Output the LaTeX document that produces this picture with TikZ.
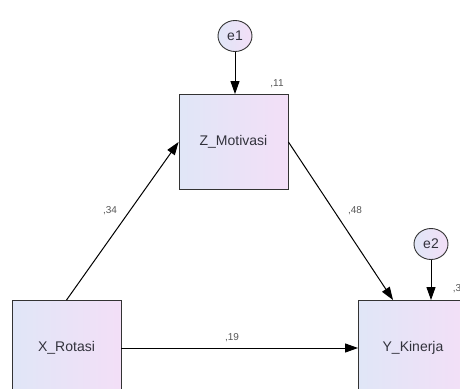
\documentclass[tikz,border=0pt]{standalone}
\usepackage{fontspec}
\setmainfont{Liberation Sans}
\usetikzlibrary{arrows.meta,shapes.geometric,calc}
\definecolor{boxL}{RGB}{224,230,247}
\definecolor{boxR}{RGB}{243,223,247}
\definecolor{lbl}{RGB}{85,85,85}
\definecolor{txt}{RGB}{50,50,60}
\tikzset{
  var/.style={draw=black!80, line width=0.9pt, left color=boxL, right color=boxR, minimum width=109pt, minimum height=95pt, inner sep=0pt, font=\fontsize{14}{16}\selectfont, text=txt},
  err/.style={draw=black!80, line width=0.9pt, ellipse, left color=boxL, right color=boxR, minimum width=34pt, minimum height=31pt, inner sep=0pt, font=\fontsize{14}{16}\selectfont, text=txt},
  path/.style={draw=black, line width=1pt, -{Triangle[length=13pt,width=9pt]}},
  coef/.style={font=\fontsize{10}{12}\selectfont, text=lbl}
}
\begin{document}
\begin{tikzpicture}[x=1pt,y=-1pt]
\useasboundingbox (0,0) rectangle (460,388);
\node[var] (Z) at (233.5,142) {Z\_Motivasi};
\node[var] (X) at (66.5,348) {X\_Rotasi};
\node[var] (Y) at (413,348) {Y\_Kinerja};
\node[err] (e1) at (235,36) {e1};
\node[err] (e2) at (431,244) {e2};
\coordinate (ytop) at ($(Y.north west)+(35,0)$);
\draw[path] (e1) -- (e1|-Z.north);
\draw[path] (e2) -- (e2|-Y.north);
\draw[path] (X.north) -- (Z.west);
\draw[path] (Z.east) -- (ytop);
\draw[path] (X.east) -- (Y.west);
\node[coef] (c11) at (277,84) {,11};
\node[coef] (c3) at (457,289) {,3};
\node[coef] (c34) at (110,211) {,34};
\node[coef] (c48) at (355,211) {,48};
\node[coef] (c19) at (232,338) {,19};
\end{tikzpicture}
\end{document}
